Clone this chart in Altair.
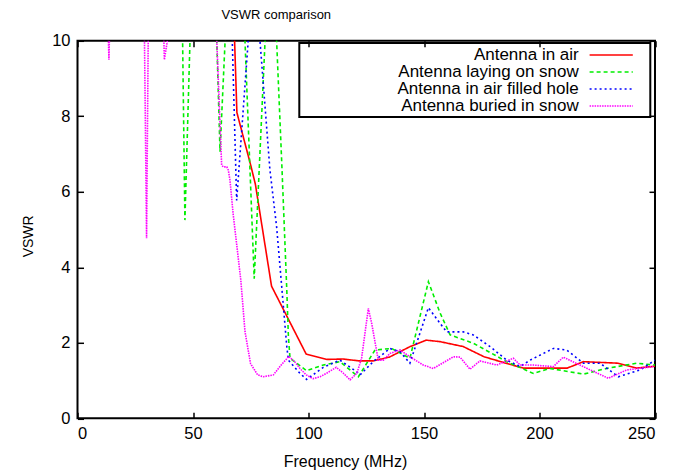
import altair as alt
import pandas as pd

series_names = ["Antenna in air", "Antenna laying on snow",
                "Antenna in air filled hole", "Antenna buried in snow"]
series_colors = ["#ff0000", "#00ee00", "#0000ff", "#ff00ff"]
series_dashes = [[1, 0], [4, 3], [2, 3], [1.5, 1]]

x_ticks = [0, 50, 100, 150, 200, 250]
y_ticks = [0, 2, 4, 6, 8, 10]

# Antenna in air (values above 10 run off the top of the plot)
air_freq = [60, 67.9, 69, 75, 77, 84, 99, 108, 115, 122, 128, 135, 144, 151, 157,
            167, 176, 186, 193, 204, 212, 219, 234, 242, 250]
air_vswr = [14, 10.2, 8.1, 6.7, 6.2, 3.5, 1.7, 1.56, 1.57, 1.52, 1.52, 1.62, 1.9, 2.07, 2.03,
            1.9, 1.63, 1.45, 1.33, 1.33, 1.33, 1.5, 1.46, 1.33, 1.38]

# Antenna laying on snow
snow_freq = [40, 45.5, 46.5, 48.7, 55, 60.3, 61.7, 63.9, 68, 72.5, 76.5, 81.2, 84, 86.2,
             88.4, 90.6, 91.3, 92, 99.2, 106.4, 113.6, 121.6, 128.8, 136, 143.9, 151.9,
             156.9, 161.3, 171.3, 185.8, 197.3, 204.5, 219, 229, 242, 250]
snow_vswr = [14, 10, 5.25, 10, 14, 10, 7.06, 10, 14, 10, 3.7, 10, 14, 10,
             6.8, 3.4, 2.16, 1.59, 1.26, 1.41, 1.5, 1.10, 1.81, 1.85, 1.59, 3.62,
             2.8, 2.21, 1.99, 1.5, 1.19, 1.32, 1.17, 1.32, 1.46, 1.41]

# Antenna in air filled hole
hole_freq = [60, 67.0, 68.9, 73.9, 76, 79.0, 83.3, 86.2, 88.4, 90.6, 91.3, 96.3, 99.2,
             106.4, 113.6, 120.9, 122.3, 128, 135.3, 139.6, 143.9, 151.9, 156.9, 159.8,
             167, 171.3, 178.6, 185.8, 191.6, 195.9, 206, 211.8, 219, 226.2, 234.1,
             243.5, 250]
hole_vswr = [14, 10, 5.77, 10, 14, 10, 6.58, 5.07, 3.49, 1.90, 1.54, 1.19, 1.03,
             1.35, 1.54, 1.23, 1.15, 1.5, 1.85, 1.76, 1.46, 2.93, 2.52, 2.29,
             2.29, 2.21, 1.90, 1.54, 1.37, 1.54, 1.85, 1.81, 1.46, 1.46, 1.1,
             1.28, 1.54]

# Antenna buried in snow
buried_freq = [0, 13.4, 13.6, 13.8, 20, 29.0, 29.9, 30.6, 34, 37.4, 37.6, 38.9, 50,
               60.3, 62.4, 63.1, 64.6, 65.3, 66.0, 67.4, 70.7, 72.5, 74.9, 78, 80.4,
               84.8, 88, 91.5, 94, 96.3, 99, 102, 105, 108, 112, 115, 118, 121, 123,
               125.9, 127.4, 130.2, 132.4, 135.3, 139.6, 143.9, 149.7, 154, 156.9,
               162.7, 165.6, 169.9, 174.2, 181.5, 188.7, 191.6, 197.3, 206, 210.3,
               217.5, 229.8, 237.7, 249.3]
buried_vswr = [14, 10, 9.5, 10, 14, 10, 4.77, 10, 14, 10, 9.5, 10, 14,
               10, 6.71, 6.66, 6.66, 6.57, 6.31, 5.4, 3.66, 2.3, 1.45, 1.15, 1.1,
               1.15, 1.4, 1.64, 1.5, 1.32, 1.15, 1.05, 1.1, 1.2, 1.35, 1.2, 1.02, 1.2, 1.6,
               2.91, 2.5, 1.54, 1.54, 1.72, 1.81, 1.63, 1.41, 1.32, 1.42,
               1.63, 1.62, 1.30, 1.52, 1.41, 1.59, 1.41, 1.41, 1.37, 1.62,
               1.41, 1.06, 1.28, 1.37]

rows = []
for name, fr, vs in zip(series_names,
                        [air_freq, snow_freq, hole_freq, buried_freq],
                        [air_vswr, snow_vswr, hole_vswr, buried_vswr]):
    for i, (f, v) in enumerate(zip(fr, vs)):
        rows.append({"series": name, "freq": f, "vswr": v, "idx": i})
df = pd.DataFrame(rows)

FONT = "Liberation Sans"
x_scale = alt.Scale(domain=[0, 250], nice=False, zero=False)
y_scale = alt.Scale(domain=[0, 10], nice=False)

legend = alt.Legend(
    title=None, orient="none", legendX=221.8, legendY=2.2, direction="vertical",
    symbolType="M-2.7,0H2.7M4,0", symbolSize=256, symbolStrokeWidth=1.6,
    symbolOffset=299.9, labelAlign="right", labelOffset={"expr": "-41.5"}, labelLimit=400,
    labelFontSize=17, labelFont=FONT, labelColor="black", labelBaseline="middle",
    rowPadding=0, padding=3, strokeColor="black",
)

lines = alt.Chart(df).mark_line(clip=True, strokeWidth=1.6).encode(
    x=alt.X("freq:Q", scale=x_scale,
            axis=alt.Axis(values=x_ticks, title="Frequency (MHz)", orient="bottom",
                          offset=-6, tickSize=6, tickWidth=1.5, tickColor="black",
                          domain=False, grid=False, labelPadding=7, labelFontSize=16.5,
                          labelFont=FONT, labelColor="black", titleFont=FONT,
                          titleFontSize=16, titleFontWeight="normal", titleColor="black",
                          titleX=267.5, titleY=49.7, titleBaseline="middle")),
    y=alt.Y("vswr:Q", scale=y_scale,
            axis=alt.Axis(values=y_ticks, title="VSWR", orient="left",
                          offset=-6, tickSize=6, tickWidth=1.5, tickColor="black",
                          domain=False, grid=False, labelPadding=7.5, labelFontSize=16.5,
                          labelFont=FONT, labelColor="black", titleFont=FONT,
                          titleFontSize=14, titleFontWeight="normal", titleColor="black",
                          titleX=-55.5, titleY=195, titleBaseline="middle")),
    color=alt.Color("series:N", scale=alt.Scale(domain=series_names, range=series_colors),
                    legend=legend),
    strokeDash=alt.StrokeDash("series:N",
                              scale=alt.Scale(domain=series_names, range=series_dashes),
                              legend=legend),
    order=alt.Order("idx:Q"),
)

mirror = alt.Chart(df).mark_point(clip=True, opacity=0).encode(
    x=alt.X("freq:Q", scale=x_scale,
            axis=alt.Axis(values=x_ticks, title=None, orient="top", offset=-6, tickSize=6,
                          tickWidth=1.5, tickColor="black", domain=False, grid=False,
                          labels=False)),
    y=alt.Y("vswr:Q", scale=y_scale,
            axis=alt.Axis(values=y_ticks, title=None, orient="right", offset=-6, tickSize=6,
                          tickWidth=1.5, tickColor="black", domain=False, grid=False,
                          labels=False)),
)

chart = alt.layer(lines, mirror).resolve_axis(x="independent", y="independent").properties(
    width=577.5, height=377.5,
    title=alt.TitleParams("VSWR comparison", fontSize=13, font=FONT, fontWeight="normal",
                          color="black", dx=-90, offset=11),
    autosize=alt.AutoSizeParams(type="none"),
    padding={"left": 69.5, "top": 32.8, "right": 28, "bottom": 56},
).configure_view(stroke="black", strokeWidth=2).configure_legend(strokeWidth=2)

chart.save("out.html", embed_options={"renderer": "svg", "actions": False})
